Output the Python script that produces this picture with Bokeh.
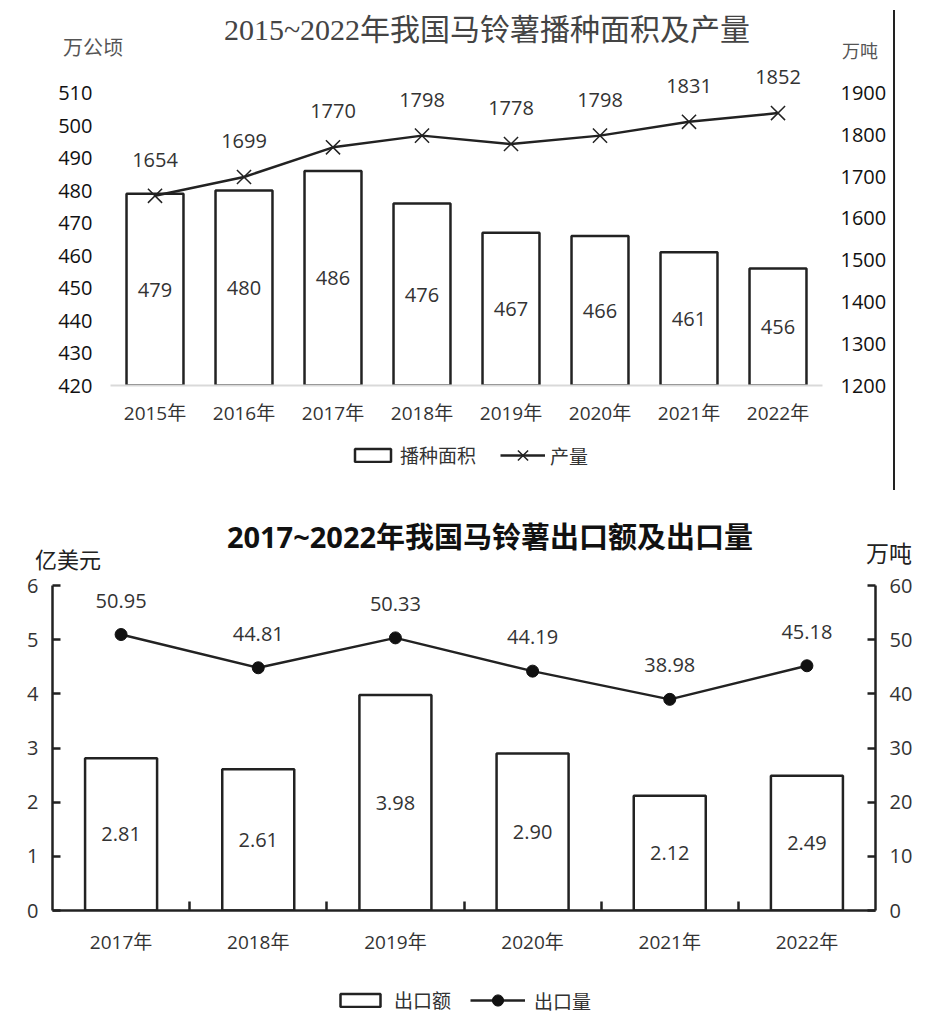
from bokeh.plotting import figure
from bokeh.models import (Range1d, FactorRange, LinearAxis, FixedTicker, Legend,
                          LegendItem, Div)
from bokeh.layouts import column, row
from bokeh.core.properties import value
from bokeh.embed import file_html
from bokeh.resources import INLINE

# ---------------- data ----------------
years_top = ["2015年", "2016年", "2017年", "2018年", "2019年", "2020年", "2021年", "2022年"]
sown_area = [479, 480, 486, 476, 467, 466, 461, 456]          # 万公顷
production = [1654, 1699, 1770, 1798, 1778, 1798, 1831, 1852]  # 万吨
area_ticks = [420, 430, 440, 450, 460, 470, 480, 490, 500, 510]
prod_ticks = [1200, 1300, 1400, 1500, 1600, 1700, 1800, 1900]

years_bottom = ["2017年", "2018年", "2019年", "2020年", "2021年", "2022年"]
export_value = [2.81, 2.61, 3.98, 2.90, 2.12, 2.49]            # 亿美元
export_volume = [50.95, 44.81, 50.33, 44.19, 38.98, 45.18]     # 万吨
value_ticks = [0, 1, 2, 3, 4, 5, 6]
volume_ticks = [0, 10, 20, 30, 40, 50, 60]

title_top = "2015~2022年我国马铃薯播种面积及产量"
title_bottom = "2017~2022年我国马铃薯出口额及出口量"
legend_top = ["播种面积", "产量"]
legend_bottom = ["出口额", "出口量"]

NUM = "'Open Sans', 'Noto Sans CJK SC', sans-serif"
CJK = "'Noto Sans CJK SC', sans-serif"
SERIF = "'Liberation Serif', 'Noto Sans CJK SC', serif"
INK = "#222222"


def span(text, cx, cy, size, color, family, weight="normal"):
    fam = family.replace("'", "&quot;")
    return ('<span style="position:absolute;left:%dpx;top:%dpx;transform:translate(-50%%,-50%%);'
            'white-space:nowrap;line-height:1;font-family:%s;font-size:%dpx;color:%s;font-weight:%s;">%s</span>'
            % (cx, cy, fam, size, color, weight, text))


def style_legend(leg, standoff, gw, gh, fsize):
    leg.border_line_color = None
    leg.background_fill_alpha = 0
    leg.inactive_fill_alpha = 0
    leg.padding = 0
    leg.margin = 0
    leg.label_standoff = standoff
    leg.glyph_width = gw
    leg.glyph_height = gh
    leg.label_text_font = CJK
    leg.label_text_font_size = fsize
    leg.label_text_color = "#333333"


def legend_figure(width, height, bar_vals, bar_bottom, line_vals, bar_width,
                  marker, labels, loc_bar, loc_line, bar_gw, line_gw, line_gh, standoff, fsize):
    # legend strip below a chart: the series renderers here are hidden,
    # so only the legend swatches show
    idx = list(range(len(bar_vals)))
    lf = figure(width=width, height=height, x_range=Range1d(-3, -2), y_range=Range1d(-3, -2),
                x_axis_type=None, y_axis_type=None, output_backend="svg", toolbar_location=None,
                min_border_left=0, min_border_right=0, min_border_top=0, min_border_bottom=0)
    lf.outline_line_color = None
    lf.grid.visible = False
    rb = lf.vbar(x=idx, top=bar_vals, bottom=bar_bottom, width=bar_width,
                 fill_color="white", line_color=INK, line_width=2.5)
    rl = lf.line(x=idx, y=line_vals, line_color=INK, line_width=2.5)
    if marker == "x":
        rm = lf.scatter(x=idx, y=line_vals, marker="x", line_color=INK, line_width=1.5)
    else:
        rm = lf.scatter(x=idx, y=line_vals, marker="circle", fill_color="#111111",
                        line_color="#111111")
    for r in (rb, rl, rm):
        r.visible = False
    la = Legend(items=[LegendItem(label=labels[0], renderers=[rb])], location=loc_bar)
    style_legend(la, standoff, bar_gw, 16, fsize)
    lb = Legend(items=[LegendItem(label=labels[1], renderers=[rl, rm])], location=loc_line)
    style_legend(lb, standoff, line_gw, line_gh, fsize)
    lf.add_layout(la)
    lf.add_layout(lb)
    return lf


# ---------------- top chart ----------------
y1_top = 520
p1 = figure(width=893, height=380,
            x_range=FactorRange(factors=years_top, range_padding=0),
            y_range=Range1d(area_ticks[0], y1_top), output_backend="svg", toolbar_location=None,
            min_border_left=110, min_border_right=71, min_border_top=0, min_border_bottom=55)
p1.outline_line_color = None
p1.xgrid.grid_line_color = None
p1.ygrid.grid_line_color = None
p1.extra_y_ranges = {"prod": Range1d(prod_ticks[0], prod_ticks[0] + (y1_top - area_ticks[0]) *
                                     (prod_ticks[-1] - prod_ticks[0]) / (area_ticks[-1] - area_ticks[0]))}

ax = p1.yaxis[0]
ax.ticker = FixedTicker(ticks=area_ticks)
rax = LinearAxis(y_range_name="prod", ticker=FixedTicker(ticks=prod_ticks))
p1.add_layout(rax, "right")
for a in (ax, rax):
    a.axis_line_color = None
    a.major_tick_line_color = None
    a.major_tick_out = 0
    a.major_tick_in = 0
    a.minor_tick_line_color = None
    a.minor_tick_out = 0
    a.major_label_standoff = 18
    a.major_label_text_font = NUM
    a.major_label_text_font_size = "20px"
    a.major_label_text_color = "#111111"

xa = p1.xaxis[0]
xa.axis_line_color = "#d9d9d9"
xa.axis_line_width = 2
xa.major_tick_line_color = None
xa.major_tick_out = 0
xa.minor_tick_line_color = None
xa.major_label_standoff = 14
xa.major_label_text_font = NUM
xa.major_label_text_font_size = "19px"
xa.major_label_text_color = "#333333"

p1.vbar(x=years_top, top=sown_area, bottom=area_ticks[0], width=0.64,
        fill_color="white", line_color=INK, line_width=2.5)
p1.text(x=years_top, y=[(area_ticks[0] + v) / 2 for v in sown_area], text=[str(v) for v in sown_area],
        text_align="center", text_baseline="middle", text_font=value(NUM),
        text_font_size="20px", text_color="#333333")
p1.line(x=years_top, y=production, y_range_name="prod", line_color=INK, line_width=2.5)
p1.scatter(x=years_top, y=production, y_range_name="prod", marker="x", size=20,
           line_color=INK, line_width=1.5)
p1.text(x=years_top, y=production, y_range_name="prod", text=[str(v) for v in production],
        y_offset=-36, text_align="center", text_baseline="middle", text_font=value(NUM),
        text_font_size="20px", text_color="#333333")

head1 = Div(width=893, height=60, margin=0,
            text='<div style="position:relative;width:893px;height:60px;">'
                 + span(title_top, 487, 30, 30, "#444444", SERIF)
                 + span("万公顷", 93, 48, 20, "#555555", SERIF)
                 + span("万吨", 860, 52, 18, "#555555", SERIF)
                 + '</div>')
lf1 = legend_figure(893, 50, sown_area, area_ticks[0], production, 0.64, "x", legend_top,
                    (240, 22), (390, 17), 45, 45, 36, 5, "19px")
edge = Div(width=2, height=480, margin=(10, 0, 0, 0), text="",
           styles={"background-color": "#222222"})
top_block = row(column(head1, p1, lf1, spacing=0), edge, spacing=0)

# ---------------- bottom chart ----------------
n = len(years_bottom)
xs = [i + 0.5 for i in range(n)]
p2 = figure(width=920, height=394, x_range=Range1d(0, n),
            y_range=Range1d(value_ticks[0], value_ticks[-1]),
            output_backend="svg", toolbar_location=None,
            min_border_left=52, min_border_right=45, min_border_top=14, min_border_bottom=55)
p2.outline_line_color = None
p2.xgrid.grid_line_color = None
p2.ygrid.grid_line_color = None
p2.extra_y_ranges = {"vol": Range1d(volume_ticks[0], volume_ticks[-1])}

ly = p2.yaxis[0]
ly.ticker = FixedTicker(ticks=value_ticks)
ry = LinearAxis(y_range_name="vol", ticker=FixedTicker(ticks=volume_ticks))
p2.add_layout(ry, "right")
for a in (ly, ry):
    a.axis_line_color = INK
    a.axis_line_width = 2.5
    a.major_tick_line_color = INK
    a.major_tick_line_width = 2.5
    a.major_tick_in = 8
    a.major_tick_out = 0
    a.minor_tick_line_color = None
    a.minor_tick_out = 0
    a.major_label_standoff = 14
    a.major_label_text_font = NUM
    a.major_label_text_font_size = "20px"
    a.major_label_text_color = "#333333"

bx = p2.xaxis[0]
bx.ticker = FixedTicker(ticks=xs, minor_ticks=list(range(1, n)))
bx.major_label_overrides = {x: lab for x, lab in zip(xs, years_bottom)}
bx.axis_line_color = INK
bx.axis_line_width = 2.5
bx.major_tick_line_color = None
bx.major_tick_out = 0
bx.major_tick_in = 0
bx.minor_tick_line_color = INK
bx.minor_tick_line_width = 2.5
bx.minor_tick_in = 9
bx.minor_tick_out = 0
bx.major_label_standoff = 18
bx.major_label_text_font = NUM
bx.major_label_text_font_size = "19px"
bx.major_label_text_color = "#333333"

p2.vbar(x=xs, top=export_value, bottom=0, width=0.525,
        fill_color="white", line_color=INK, line_width=2.5)
p2.text(x=xs, y=[v / 2 for v in export_value], text=["%.2f" % v for v in export_value],
        text_align="center", text_baseline="middle", text_font=value(NUM),
        text_font_size="20px", text_color="#333333")
p2.line(x=xs, y=export_volume, y_range_name="vol", line_color=INK, line_width=2.5)
p2.scatter(x=xs, y=export_volume, y_range_name="vol", marker="circle", size=12,
           fill_color="#111111", line_color="#111111")
p2.text(x=xs, y=export_volume, y_range_name="vol", text=["%.2f" % v for v in export_volume],
        y_offset=-34, text_align="center", text_baseline="middle", text_font=value(NUM),
        text_font_size="20px", text_color="#333333")

head2 = Div(width=920, height=81, margin=0,
            text='<div style="position:relative;width:920px;height:81px;">'
                 + span(title_bottom, 490, 46, 29, "#111111", NUM, "bold")
                 + span("亿美元", 68, 68, 22, "#222222", CJK)
                 + span("万吨", 889, 62, 23, "#222222", CJK)
                 + '</div>')
lf2 = legend_figure(920, 60, export_value, 0, export_volume, 0.525, "circle", legend_bottom,
                    (283, 12), (418, 11), 50, 55, 28, 9, "19px")
bottom_block = column(head2, p2, lf2, spacing=0)

page = column(top_block, bottom_block, spacing=0)
open("out.html", "w").write(file_html(page, INLINE))
